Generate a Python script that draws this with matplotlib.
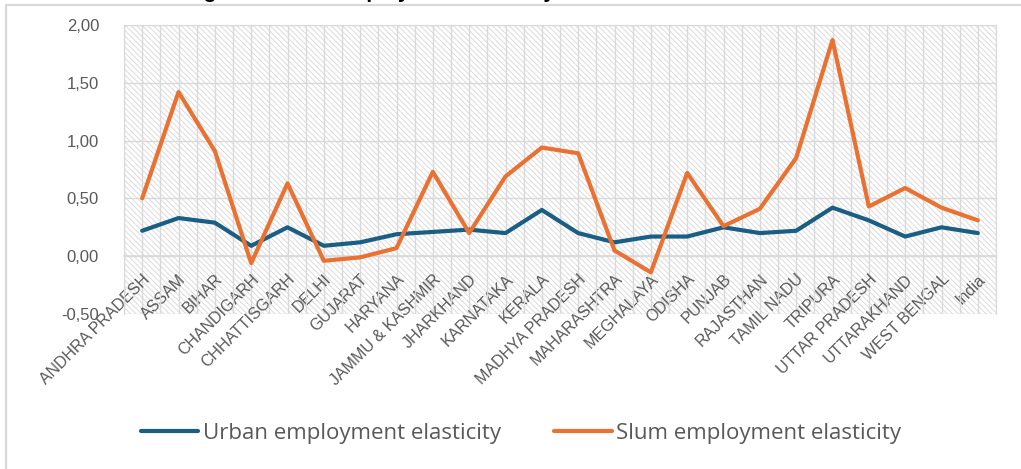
import matplotlib
matplotlib.use("Agg")
import matplotlib.pyplot as plt
import numpy as np
from matplotlib.patches import Rectangle
from matplotlib.ticker import FuncFormatter

states = [
    "ANDHRA PRADESH", "ASSAM", "BIHAR", "CHANDIGARH", "CHHATTISGARH", "DELHI",
    "GUJARAT", "HARYANA", "JAMMU & KASHMIR", "JHARKHAND", "KARNATAKA", "KERALA",
    "MADHYA PRADESH", "MAHARASHTRA", "MEGHALAYA", "ODISHA", "PUNJAB", "RAJASTHAN",
    "TAMIL NADU", "TRIPURA", "UTTAR PRADESH", "UTTARAKHAND", "WEST BENGAL", "India",
]
urban = [0.22, 0.33, 0.29, 0.09, 0.25, 0.09, 0.12, 0.19, 0.21, 0.23, 0.20, 0.40,
         0.20, 0.12, 0.17, 0.17, 0.25, 0.20, 0.22, 0.42, 0.31, 0.17, 0.25, 0.20]
slum = [0.50, 1.42, 0.91, -0.06, 0.63, -0.04, -0.01, 0.07, 0.73, 0.20, 0.69, 0.94,
        0.89, 0.05, -0.14, 0.72, 0.26, 0.41, 0.85, 1.87, 0.43, 0.59, 0.42, 0.31]

blue = "#1b5e84"
orange = "#e97132"
grid_c = "#d9d9d9"
text_c = "#595959"

plt.rcParams["hatch.color"] = "#d6d6d6"
plt.rcParams["hatch.linewidth"] = 0.6

fig = plt.figure(figsize=(10.21, 4.69), dpi=100)
W, H = 1021, 469
ax = fig.add_axes([124 / W, 1 - 314 / H, 872 / W, 289 / H])

# chart frame and the title running off the top edge
fig.patches.append(Rectangle((6 / W, -0.1), 1.2, 1 - 5 / H + 0.1, transform=fig.transFigure,
                             fill=False, edgecolor=grid_c, linewidth=1.6))
fig.text(185 / W, 1 + 1.5 / H, "Figure 3: Slum employment elasticity", fontsize=15,
         fontweight="bold", color="black", va="baseline", ha="left", family="Liberation Sans")

x = np.arange(len(states))
ax.patch.set_hatch("\\\\\\\\\\\\")
ax.patch.set_edgecolor("#d6d6d6")
ax.plot(x, urban, color=blue, linewidth=3, label="Urban employment elasticity",
        solid_capstyle="round", zorder=3)
ax.plot(x, slum, color=orange, linewidth=3, label="Slum employment elasticity",
        solid_capstyle="round", zorder=3)

# category axis crosses at zero, labels sit next to it
for s in ["top", "right", "left"]:
    ax.spines[s].set_color(grid_c)
ax.spines["bottom"].set_position(("data", 0))
ax.spines["bottom"].set_color(grid_c)
ax.spines["bottom"].set_linewidth(1.2)

ax.set_xlim(-0.5, len(states) - 0.5)
ax.set_ylim(-0.5, 2.0)
ax.set_yticks(np.arange(-0.5, 2.01, 0.5))
ax.yaxis.set_major_formatter(FuncFormatter(lambda v, p: f"{v:.2f}".replace(".", ",")))
ax.set_xticks(x)
ax.set_xticks(np.arange(-0.5, len(states), 1.0), minor=True)
ax.set_xticklabels(states, rotation=45, ha="right", rotation_mode="anchor")
ax.grid(True, which="both", color=grid_c, linewidth=1.0, zorder=0)
ax.set_axisbelow(True)

ax.tick_params(axis="both", which="both", length=0, colors=text_c)
ax.tick_params(axis="x", which="both", pad=11, labelsize=11.5)
ax.tick_params(axis="y", pad=18, labelsize=12)
for lab in ax.get_xticklabels() + ax.get_yticklabels():
    lab.set_family("Liberation Sans")

leg = fig.legend(loc="center", bbox_to_anchor=(521 / W, 1 - 433 / H), ncol=2, frameon=False,
                 fontsize=16, handlelength=2.6, handletextpad=0.2, columnspacing=2.4,
                 labelcolor=text_c)
for t in leg.get_texts():
    t.set_family("Open Sans")

fig.savefig("out.png", dpi=100)
